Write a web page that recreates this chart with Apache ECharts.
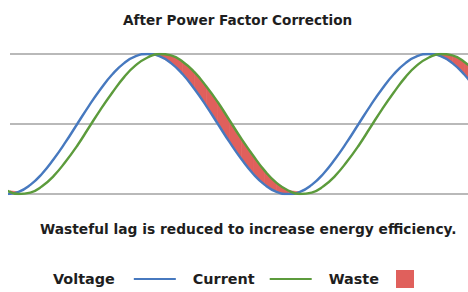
<!DOCTYPE html>
<html>
<head>
<meta charset="utf-8">
<script src="https://cdn.jsdelivr.net/npm/echarts@6/dist/echarts.min.js"></script>
<style>
html,body{margin:0;padding:0;background:#fff;}
#c{width:468px;height:292px;}
</style>
</head>
<body>
<div id="c"></div>
<script>
// phase angle (degrees) sample positions
const phaseDeg = [0,15,30,45,60,75,90,105,120,135,150,165,180,195,210,225,240,255,270,285,300,315,330,345,360,375,390,405,420,435,450,465,480,495,510,525,540,555,570,585,600];
// normalised voltage waveform
const voltage = [-1,-0.97,-0.87,-0.71,-0.5,-0.26,0,0.26,0.5,0.71,0.87,0.97,1,0.97,0.87,0.71,0.5,0.26,0,-0.26,-0.5,-0.71,-0.87,-0.97,-1,-0.97,-0.87,-0.71,-0.5,-0.26,0,0.26,0.5,0.71,0.87,0.97,1,0.97,0.87,0.71,0.5];
// normalised current waveform (small lag behind voltage)
const current = [-0.95,-1,-0.98,-0.89,-0.74,-0.54,-0.31,-0.05,0.21,0.45,0.67,0.84,0.95,1,0.98,0.89,0.74,0.54,0.31,0.05,-0.21,-0.45,-0.67,-0.84,-0.95,-1,-0.98,-0.89,-0.74,-0.54,-0.31,-0.05,0.21,0.45,0.67,0.84,0.95,1,0.98,0.89,0.74];
const yTicks = [-1, 0, 1];
const titleText = 'After Power Factor Correction';
const noteText = 'Wasteful lag is reduced to increase energy efficiency.';
const legendNames = ['Voltage', 'Current', 'Waste'];

const BLUE = '#4779bf', GREEN = '#5c9b3c', RED = '#e0605c';
const FONT = 'DejaVu Sans';

const vData = phaseDeg.map((d, i) => [d, voltage[i]]);
const cData = phaseDeg.map((d, i) => [d, current[i]]);
// waste segments: [x0, x1, v0, v1, c0, c1] where current lags above voltage
const wData = [];
for (let i = 0; i < phaseDeg.length - 1; i++) {
  if (current[i] > voltage[i] || current[i + 1] > voltage[i + 1]) {
    wData.push([phaseDeg[i], phaseDeg[i + 1], voltage[i], voltage[i + 1],
                Math.max(current[i], voltage[i]), Math.max(current[i + 1], voltage[i + 1])]);
  }
}

const chart = echarts.init(document.getElementById('c'), null, {renderer: 'svg'});
chart.setOption({
  animation: false,
  backgroundColor: '#ffffff',
  title: [
    {text: titleText, left: 123, top: 12, padding: 0,
     textStyle: {fontFamily: FONT, fontSize: 13.6, fontWeight: 'bold', color: '#1e1e1e', lineHeight: 16}},
    {text: noteText, left: 40, top: 221, padding: 0,
     textStyle: {fontFamily: FONT, fontSize: 13.8, fontWeight: 'bold', color: '#1e1e1e', lineHeight: 16}}
  ],
  grid: {left: 10, right: 0, top: 54, bottom: 98, containLabel: false},
  xAxis: {type: 'value', min: 4, max: 590, show: false},
  yAxis: {
    type: 'value', min: yTicks[0], max: yTicks[yTicks.length - 1], interval: 1,
    axisLabel: {show: false}, axisLine: {show: false}, axisTick: {show: false},
    splitLine: {show: true, lineStyle: {color: '#b9b9b9', width: 1.8}}
  },
  legend: {
    left: 53, top: 270, padding: 0, align: 'right',
    itemWidth: 42, itemHeight: 18, itemGap: 17,
    textStyle: {fontFamily: FONT, fontSize: 14.4, fontWeight: 'bold', color: '#1e1e1e'},
    data: [
      {name: legendNames[0], icon: 'path://M0,0H42V2H0Z', textStyle: {padding: [0, 14, 0, 0]}},
      {name: legendNames[1], icon: 'path://M0,0H42V2H0Z', textStyle: {padding: [0, 10, 0, 0]}},
      {name: legendNames[2], icon: 'path://M0,0H18V18H0Z'}
    ]
  },
  series: [
    {name: legendNames[2], type: 'custom', data: wData, itemStyle: {color: RED}, z: 2, clip: true,
     encode: {x: [0, 1], y: [2, 3, 4, 5]},
     renderItem: function (params, api) {
       const p1 = api.coord([api.value(0), api.value(2)]);
       const p2 = api.coord([api.value(1), api.value(3)]);
       const p3 = api.coord([api.value(1), api.value(5)]);
       const p4 = api.coord([api.value(0), api.value(4)]);
       return {type: 'polygon', shape: {points: [p1, p2, p3, p4]},
               style: {fill: RED, stroke: RED, lineWidth: 0.6}};
     }},
    {name: legendNames[0], type: 'line', data: vData, smooth: true, symbol: 'none',
     itemStyle: {color: BLUE}, lineStyle: {color: BLUE, width: 2.4}, z: 3},
    {name: legendNames[1], type: 'line', data: cData, smooth: true, symbol: 'none',
     itemStyle: {color: GREEN}, lineStyle: {color: GREEN, width: 2.4}, z: 4}
  ]
});
</script>
</body>
</html>
